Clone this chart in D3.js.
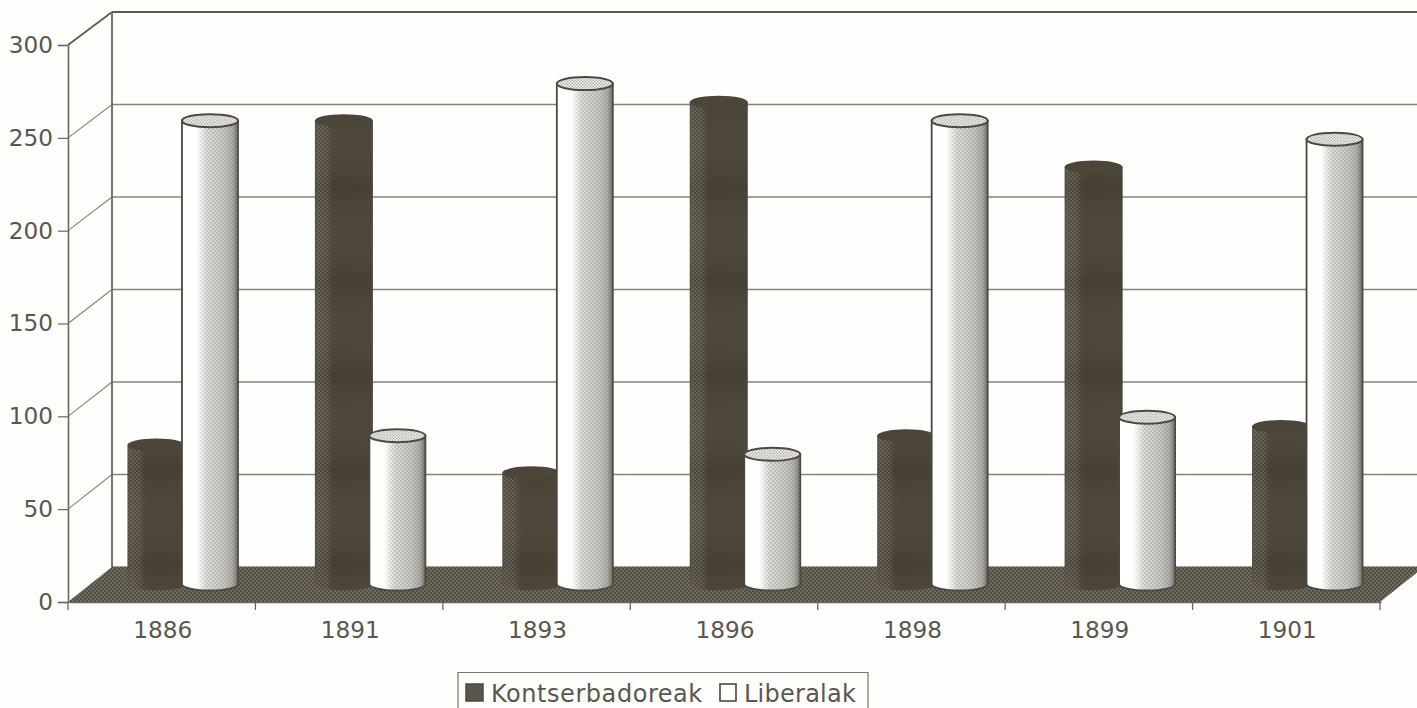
<!DOCTYPE html>
<html><head><meta charset="utf-8">
<script src="https://cdn.jsdelivr.net/npm/d3@7/dist/d3.min.js"></script>
<style>html,body{margin:0;padding:0;background:#fefefd;overflow:hidden}svg{display:block}text{font-family:"DejaVu Sans",Verdana,sans-serif;fill:#5a574e}</style>
</head><body><svg id="c" width="1417" height="708"></svg>
<script>
const years = ["1886","1891","1893","1896","1898","1899","1901"];
const kontserbadoreak = [75,250,60,260,80,225,85];
const liberalak = [250,80,270,70,250,90,240];
const seriesNames = ["Kontserbadoreak","Liberalak"];
const yTicks = [0,50,100,150,200,250,300];

const svg = d3.select("#c");
const front = {x0:68,x1:1380,y0:602,y1:45};
const depth = {dx:44};
const x = d3.scaleBand().domain(years).range([front.x0,front.x1]);
const y = d3.scaleLinear().domain([0,300]).range([front.y0,front.y1]);
const by = d3.scaleLinear().domain([0,300]).range([567,12]);
const yCyl = d3.scaleLinear().domain([0,300]).range([584,28]);
const line="#6a675d", grid="#85837a";
const defs = svg.append("defs");

function grad(id,stops,attrs){
  const g=defs.append("linearGradient").attr("id",id);
  Object.entries(attrs||{}).forEach(([k,v])=>g.attr(k,v));
  stops.forEach(([o,c,a])=>g.append("stop").attr("offset",o).attr("stop-color",c).attr("stop-opacity",a==null?1:a));
}
grad("whiteBody",[[0,"#ffffff"],[0.25,"#fefefd"],[0.45,"#dedddA"],[0.75,"#c8c7c2"],[0.9,"#aeada7"],[1,"#6d6b63"]]);
grad("darkBody",[[0,"#5a5549"],[0.1,"#4f493e"],[0.4,"#4a4337"],[1,"#4b4539"]]);
grad("bands",[[0,"#2a251d",0.16],[0.5,"#8a8474",0.05],[1,"#2a251d",0.16]],
  {gradientUnits:"userSpaceOnUse",x1:0,x2:0,y1:0,y2:94,spreadMethod:"repeat"});
grad("fadeW",[[0,"#000"],[0.28,"#000"],[0.45,"#fff"],[1,"#fff"]]);
grad("fadeD",[[0,"#000"],[0.06,"#fff"],[0.2,"#fff"],[0.3,"#000"],[1,"#000"]]);
defs.append("mask").attr("id","maskW").attr("maskContentUnits","objectBoundingBox").append("rect").attr("width",1).attr("height",1).attr("fill","url(#fadeW)");
defs.append("mask").attr("id","maskD").attr("maskContentUnits","objectBoundingBox").append("rect").attr("width",1).attr("height",1).attr("fill","url(#fadeD)");
const dots=(id,size,fill,r)=>{const p=defs.append("pattern").attr("id",id).attr("width",size).attr("height",size).attr("patternUnits","userSpaceOnUse");
  p.append("circle").attr("cx",size/4).attr("cy",size/4).attr("r",r).attr("fill",fill);
  p.append("circle").attr("cx",3*size/4).attr("cy",3*size/4).attr("r",r).attr("fill",fill);};
dots("floorDots",4,"#a5a294",0.8);
dots("whiteDots",4,"#7d7b73",0.8);
dots("darkDots",4,"#a09c8e",0.8);
dots("topDots",3,"#77756c",0.7);

// walls
const bx0=front.x0+depth.dx;
const gGrid=svg.append("g");
gGrid.selectAll("line.g").data(yTicks).join("line").attr("class","g")
  .attr("x1",bx0).attr("x2",1417).attr("y1",d=>by(d)).attr("y2",d=>by(d))
  .attr("stroke",d=>d===300?"#5e5c52":grid).attr("stroke-width",d=>d===300?2:1.4);
gGrid.selectAll("line.d").data(yTicks.filter(d=>d>0)).join("line").attr("class","d")
  .attr("x1",front.x0).attr("x2",bx0).attr("y1",d=>y(d)).attr("y2",d=>by(d))
  .attr("stroke",d=>d===300?"#5e5c52":grid).attr("stroke-width",d=>d===300?1.8:1.1);
gGrid.append("line").attr("x1",bx0).attr("x2",bx0).attr("y1",by(300)).attr("y2",by(0)).attr("stroke",line).attr("stroke-width",1.8);

// floor
const floor=`M${front.x0},${front.y0}L${bx0},${by(0)}L1424,${by(0)}L${front.x1},${front.y0}Z`;
svg.append("path").attr("d",floor).attr("fill","#534e42");
svg.append("path").attr("d",floor).attr("fill","url(#floorDots)").attr("opacity",.8);

// axes
const axL=d3.axisLeft(y).tickValues(yTicks).tickSize(10).tickPadding(5);
const gL=svg.append("g").attr("transform",`translate(${front.x0},0)`).call(axL);
const axB=d3.axisBottom(x).tickSize(0).tickPadding(20);
const gB=svg.append("g").attr("transform",`translate(1,${front.y0})`).call(axB);
gB.selectAll(".bt").data(d3.range(8)).join("line").attr("class","bt")
  .attr("x1",i=>front.x0-1+i*x.step()).attr("x2",i=>front.x0-1+i*x.step()).attr("y1",0).attr("y2",8).attr("stroke",line).attr("stroke-width",1.3);
[gL,gB].forEach(g=>{g.selectAll("path.domain").attr("stroke",line).attr("stroke-width",1.6);
  g.selectAll(".tick line").attr("stroke",line).attr("stroke-width",1.2);
  g.selectAll("text").style("font-size","23.2px").style("font-family",'"DejaVu Sans"').attr("fill","#5a574e");});

// cylinders
const cyl=d3.scaleBand().domain(seriesNames).range([-54,53]);
const rows=years.flatMap((yr,i)=>[
  {yr,s:0,v:kontserbadoreak[i]},{yr,s:1,v:liberalak[i]}]);
const rx=d=>d.s===0?29:28, ry=6.5, baseY=yCyl(0);
const cx=d=>x(d.yr)+x.bandwidth()/2+depth.dx/2+cyl(seriesNames[d.s])+cyl.bandwidth()/2;
const body=d=>{const l=cx(d)-rx(d),r=cx(d)+rx(d),t=yCyl(d.v);
  return `M${l},${t}L${l},${baseY}A${rx(d)},${ry} 0 0 0 ${r},${baseY}L${r},${t}Z`;};
const gC=svg.append("g");
rows.forEach(d=>{
  const g=gC.append("g"); const top=yCyl(d.v);
  if(d.s===0){
    g.append("path").attr("d",body(d)).attr("fill","url(#darkBody)");
    g.append("path").attr("d",body(d)).attr("fill","url(#bands)");
    g.append("path").attr("d",body(d)).attr("fill","url(#darkDots)").attr("mask","url(#maskD)").attr("opacity",.7);
    g.append("ellipse").attr("cx",cx(d)).attr("cy",top).attr("rx",rx(d)).attr("ry",ry).attr("fill","#4b453a");
  } else {
    g.append("path").attr("d",body(d)).attr("fill","url(#whiteBody)").attr("stroke","#4b483f").attr("stroke-width",1.8);
    g.append("path").attr("d",body(d)).attr("fill","url(#whiteDots)").attr("mask","url(#maskW)").attr("opacity",.65);
    g.append("ellipse").attr("cx",cx(d)).attr("cy",top).attr("rx",rx(d)).attr("ry",ry).attr("fill","#ecebe7").attr("stroke","#4b483f").attr("stroke-width",2);
    g.append("ellipse").attr("cx",cx(d)).attr("cy",top).attr("rx",rx(d)-1).attr("ry",ry-1).attr("fill","url(#topDots)").attr("opacity",.6);
  }
});

// legend
const lg=svg.append("g");
lg.append("path").attr("d","M458,712V672.5H868V712").attr("fill","#fefefd").attr("stroke","#77756c").attr("stroke-width",1.2);
lg.append("rect").attr("x",466).attr("y",684).attr("width",17).attr("height",17).attr("fill","#5b564b").attr("stroke","#4b483f").attr("stroke-width",1.5);
lg.append("text").attr("x",491).attr("y",702).style("font-size","24px").style("letter-spacing","0.55px").text(seriesNames[0]);
lg.append("rect").attr("x",720).attr("y",684).attr("width",16).attr("height",17).attr("fill","#fff").attr("stroke","#4b483f").attr("stroke-width",1.6);
lg.append("text").attr("x",744).attr("y",702).style("font-size","24px").style("letter-spacing","0.25px").text(seriesNames[1]);
</script></body></html>
